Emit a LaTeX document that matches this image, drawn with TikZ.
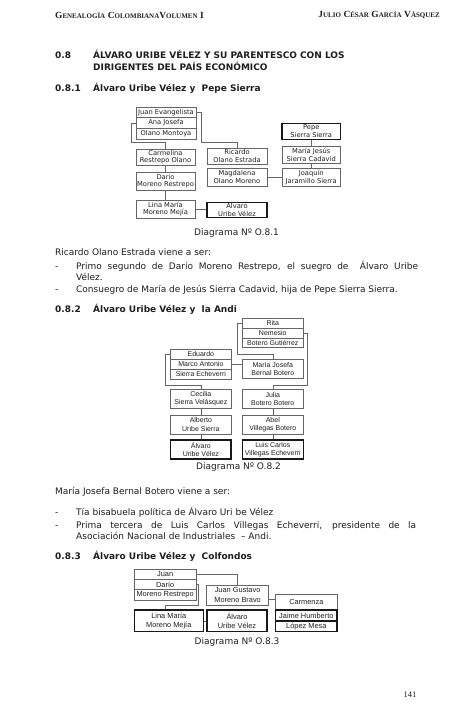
\documentclass[tikz,border=0pt]{standalone}
\usepackage{fontspec}
\setmainfont{DejaVu Sans}
\newfontfamily\arialf{Liberation Sans}
\newfontfamily\timesf{Liberation Serif}
\newcommand\fsc[2]{{\fontsize{9.4}{10}\selectfont #1}{\fontsize{7}{8}\selectfont #2}}
\definecolor{lc}{gray}{0.4}
\definecolor{tc}{gray}{0.12}
\tikzset{
  pb/.style={draw=lc, line width=0.6pt, inner sep=0pt, align=center, text=tc},
  tb/.style={draw=black!90, line width=1.3pt, inner sep=0pt, align=center, text=tc},
  dA/.style={font=\fontsize{6.7}{7.8}\selectfont},
  dB/.style={font=\arialf\fontsize{7}{8.4}\selectfont},
  dC/.style={font=\arialf\fontsize{7.4}{9.2}\selectfont},
  con/.style={draw=lc, line width=0.6pt},
  body/.style={anchor=west, inner sep=0pt, text=tc, text height=6.8pt, text depth=2.2pt, font=\fontsize{9}{11}\selectfont},
  head/.style={anchor=west, inner sep=0pt, text=tc, text height=6.8pt, text depth=2.2pt, font=\bfseries\fontsize{9}{11}\selectfont},
  capt/.style={inner sep=0pt, text=tc, font=\fontsize{9}{11}\selectfont},
}
\begin{document}
\begin{tikzpicture}[x=1pt,y=-1pt]
\path[use as bounding box, fill=white] (0,0) rectangle (474,722);

% header
\node[anchor=west, inner sep=0pt, text=tc, font=\timesf\bfseries] (hl) at (55,15) {\fsc{G}{ENEALOGÍA} \fsc{C}{OLOMBIANA}\fsc{V}{OLUMEN} \fsc{I}{}};
\node[anchor=east, inner sep=0pt, text=tc, font=\timesf\bfseries] (hr) at (440,15) {\fsc{J}{ULIO} \fsc{C}{ÉSAR} \fsc{G}{ARCÍA} \fsc{V}{ÁSQUEZ}};

% headings
\node[head] (h08) at (55,56) {0.8};
\node[head] (h08a) at (93,56) {ÁLVARO URIBE VÉLEZ Y SU PARENTESCO CON LOS};
\node[head] (h08b) at (93,68) {DIRIGENTES DEL PAÍS ECONÓMICO};
\node[head] (h081) at (55,89) {0.8.1};
\node[head] (h081t) at (93,89) {Álvaro Uribe Vélez y \ Pepe Sierra};

% ---------- diagram 1 ----------
\begin{scope}[every node/.append style={dA}]
\node[pb, minimum width=60, minimum height=10.7] (je) at (166,112.35) {Juan Evangelista};
\node[pb, minimum width=60, minimum height=10.7] (aj) at (166,123.05) {Ana Josefa};
\node[pb, minimum width=60, minimum height=10.7] (om) at (166,133.75) {Olano Montoya};
\node[pb, minimum width=59, minimum height=16.5] (carm) at (165.5,157.25) {Carmelina\\Restrepo Olano};
\node[pb, minimum width=59, minimum height=17.5] (dario) at (165.5,181.25) {Dario\\Moreno Restrepo};
\node[pb, minimum width=59, minimum height=18] (lina) at (165.5,209) {Lina María\\Moreno Mejía};
\node[tb, minimum width=60, minimum height=15] (alv1) at (237,210) {Alvaro\\Uribe Vélez};
\node[pb, minimum width=60, minimum height=16] (ric) at (237,156) {Ricardo\\Olano Estrada};
\node[pb, minimum width=60, minimum height=17.5] (mag) at (237,177.25) {Magdalena\\Olano Moreno};
\node[tb, minimum width=58.5, minimum height=16] (pepe) at (311.25,131.5) {Pepe\\Sierra Sierra};
\node[pb, minimum width=58.5, minimum height=17] (mjs) at (311.25,154.5) {María Jesús\\Sierra Cadavid};
\node[pb, minimum width=58.5, minimum height=17.5] (joa) at (311.25,177.25) {Joaquín\\Jaramillo Sierra};
\end{scope}
\coordinate (j1) at (201,142.7);
\coordinate (a1) at (131,142.3);
\draw[con] (je.east) -| (j1) -| (ric.north);
\draw[con] (aj.west) -| (a1) -| (carm.north);
\draw[con] (carm.south) -- (dario.north);
\draw[con] (dario.south) -- (lina.north);
\draw[con] (lina.east) -- (lina.east -| alv1.west);
\draw[con] (mag.east) -- (joa.west);
\draw[con] (pepe.south) -- (mjs.north);
\draw[con] (mjs.south) -- (joa.north);
\node[capt] (cap1) at (236.5,233) {Diagrama Nº O.8.1};

% text 1
\node[body] (t1) at (55,253.3) {Ricardo Olano Estrada viene a ser:};
\node[body] (d1) at (55,266.7) {-};
\node[body] (t2) at (76,266.7) {\makebox[342pt][s]{Primo segundo de Darío Moreno Restrepo, el suegro de \ Álvaro Uribe}};
\node[body] (t3) at (76,278) {Vélez.};
\node[body] (d2) at (55,289.7) {-};
\node[body] (t4) at (76,289.7) {Consuegro de María de Jesús Sierra Cadavid, hija de Pepe Sierra Sierra.};

\node[head] (h082) at (55,310) {0.8.2};
\node[head] (h082t) at (93,310) {Álvaro Uribe Vélez y \ la Andi};

% ---------- diagram 2 ----------
\begin{scope}[every node/.append style={dB}]
\node[pb, minimum width=61, minimum height=9.8] (rita) at (272.8,323.2) {Rita};
\node[pb, minimum width=61, minimum height=9.8] (nem) at (272.8,333.0) {Nemesio};
\node[pb, minimum width=61, minimum height=9.8] (botg) at (272.8,342.8) {Botero Gutiérrez};
\node[pb, minimum width=61, minimum height=19] (mjb) at (272.8,368.8) {María Josefa\\Bernal Botero};
\node[pb, minimum width=60.3, minimum height=10] (edu) at (200.85,354.3) {Eduardo};
\node[pb, minimum width=60.3, minimum height=10] (marco) at (200.85,364.3) {Marco Antonio};
\node[pb, minimum width=60.3, minimum height=10] (sech) at (200.85,374.3) {Sierra Echeverri};
\node[pb, minimum width=60.3, minimum height=19] (cec) at (200.85,398.8) {Cecilia\\Sierra Velásquez};
\node[pb, minimum width=60.3, minimum height=19] (alb) at (200.85,424.5) {Alberto\\Uribe Sierra};
\node[tb, minimum width=60.3, minimum height=19] (alv2) at (200.85,449.5) {Álvaro\\Uribe Vélez};
\node[pb, minimum width=61, minimum height=19] (jul) at (272.8,398.8) {Julia\\Botero Botero};
\node[pb, minimum width=61, minimum height=19] (abel) at (272.8,424.5) {Abel\\Villegas Botero};
\node[tb, minimum width=61, minimum height=19] (luis) at (272.8,449.5) {Luis Carlos\\Villegas Echeverri};
\end{scope}
\coordinate (r1) at (237.3,354);
\coordinate (n1) at (307.3,385);
\coordinate (e1) at (165.7,385);
\draw[con] (rita.west) -| (r1) -| (mjb.north);
\draw[con] (nem.east) -| (n1) -| (jul.north);
\draw[con] (edu.west) -| (e1) -| (cec.north);
\draw[con] (marco.east) -- (marco.east -| mjb.west);
\draw[con] (cec.south) -- (alb.north);
\draw[con] (alb.south) -- (alv2.north);
\draw[con] (jul.south) -- (abel.north);
\draw[con] (abel.south) -- (luis.north);
\node[capt] (cap2) at (238.5,467.5) {Diagrama Nº O.8.2};

% text 2
\node[body] (t5) at (55,491.7) {María Josefa Bernal Botero viene a ser:};
\node[body] (d3) at (55,513.3) {-};
\node[body] (t6) at (76,513.3) {Tía bisabuela política de Álvaro Uri be Vélez};
\node[body] (d4) at (55,525.7) {-};
\node[body] (t7) at (76,525.7) {\makebox[340pt][s]{Prima tercera de Luis Carlos Villegas Echeverri, presidente de la}};
\node[body] (t8) at (76,536.7) {Asociación Nacional de Industriales \ – Andi.};

\node[head] (h083) at (55,557) {0.8.3};
\node[head] (h083t) at (93,557) {Álvaro Uribe Vélez y \ Colfondos};

% ---------- diagram 3 ----------
\begin{scope}[every node/.append style={dC}]
\node[pb, minimum width=61.7, minimum height=10.2] (juan) at (165.15,574.4) {Juan};
\node[pb, minimum width=61.7, minimum height=10.2] (dar) at (165.15,584.6) {Darío};
\node[pb, minimum width=61.7, minimum height=10.2] (mr) at (165.15,594.8) {Moreno Restrepo};
\node[pb, minimum width=61.8, minimum height=20] (jg) at (237.6,595) {Juan Gustavo\\Moreno Bravo};
\node[tb, minimum width=69, minimum height=21.7] (lina3) at (168.8,620.85) {Lina María\\Moreno Mejía};
\node[tb, minimum width=60, minimum height=21.7] (alv3) at (237,620.85) {Álvaro\\Uribe Vélez};
\node[pb, minimum width=61.3, minimum height=15.7] (carm3) at (306.35,602.15) {Carmenza};
\node[tb, minimum width=61.3, minimum height=11] (jh) at (306.35,615.5) {Jaime Humberto};
\node[tb, minimum width=61.3, minimum height=10.7] (lm) at (306.35,626.35) {López Mesa};
\end{scope}
\coordinate (q1) at (198.3,605.7);
\draw[con] (juan.east) -| (jg.north);
\draw[con] (dar.east) -| (q1) -| ([xshift=-3.8pt]lina3.north);
\draw[con] (lina3.east) -- (alv3.west);
\draw[con] ([yshift=-4.3pt]jg.east) -- ([yshift=-4.3pt]jg.east -| carm3.west);
\node[capt] (cap3) at (237,641.7) {Diagrama Nº O.8.3};

\node[inner sep=0pt, text=tc, font=\timesf\fontsize{8.5}{10}\selectfont] (pg) at (410,695) {141};
\end{tikzpicture}
\end{document}
